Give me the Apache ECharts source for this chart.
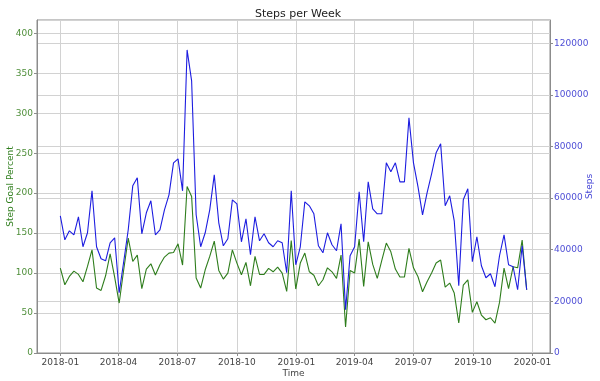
<!DOCTYPE html>
<html>
<head>
<meta charset="utf-8">
<script src="https://cdn.jsdelivr.net/npm/echarts@6/dist/echarts.min.js"></script>
<style>
html,body{margin:0;padding:0;background:#fff;}
#chart{width:600px;height:381px;}
</style>
</head>
<body>
<div id="chart"></div>
<script>
// ---- data ----
const START_DATE = '2018-01-01';   // first week
const WEEK_COUNT = 104;             // weekly samples
const goalPercent = [
  106.3, 85.4, 95.8, 102.5, 98.3, 89.1, 108.3, 129.1, 81.3, 78.3,
  96.6, 124.1, 95.0, 62.5, 104.1, 143.8, 114.5, 122.5, 80.4, 105.0,
  111.6, 97.5, 110.4, 120.0, 125.0, 125.8, 136.6, 110.0, 208.3, 195.8,
  93.8, 81.3, 104.1, 120.8, 140.0, 103.3, 92.5, 100.0, 129.1, 112.5,
  97.9, 113.3, 84.1, 120.8, 98.3, 98.3, 105.8, 101.6, 107.5, 100.0,
  77.0, 140.8, 80.0, 112.5, 125.0, 101.6, 97.3, 84.1, 91.6, 106.6,
  101.6, 93.3, 122.5, 32.5, 103.3, 100.0, 142.5, 83.3, 139.1, 110.8,
  93.3, 115.8, 137.5, 126.6, 105.0, 95.0, 95.0, 130.8, 106.6, 95.4,
  76.6, 89.1, 100.0, 112.5, 116.3, 82.5, 87.5, 75.0, 37.5, 85.0,
  91.6, 50.8, 64.1, 47.5, 41.6, 44.1, 37.5, 63.3, 106.3, 80.4,
  107.9, 106.6, 141.3, 79.1
];
const steps = [
  53150, 43860, 47340, 45790, 52760, 41150, 46570, 62830, 41150, 36500,
  35730, 42700, 44630, 23340, 35340, 47730, 64760, 67860, 46180, 54310,
  58960, 45790, 47730, 55470, 61280, 73670, 75210, 62830, 117410, 105410,
  53540, 41150, 46570, 55470, 69020, 50440, 41540, 44250, 59340, 57790,
  43080, 51990, 38050, 52760, 43470, 46180, 42700, 41150, 43470, 42700,
  31080, 62830, 34180, 41150, 58570, 57020, 53920, 41540, 38830, 46570,
  41920, 39600, 50050, 16760, 37670, 41150, 62440, 43080, 66310, 55860,
  53920, 53920, 73670, 70180, 73670, 66310, 66310, 91090, 73670, 64380,
  53540, 62050, 69410, 77540, 81020, 57020, 60890, 51210, 26050, 59340,
  63600, 35340, 45020, 33790, 29150, 30700, 25660, 37670, 45790, 34180,
  33410, 24500, 41540, 24500
];
const xTickLabels = ['2018-01', '2018-04', '2018-07', '2018-10', '2019-01',
                     '2019-04', '2019-07', '2019-10', '2020-01'];
const leftTicks = [0, 50, 100, 150, 200, 250, 300, 350, 400];
const rightTicks = [0, 20000, 40000, 60000, 80000, 100000, 120000];

// weekly dates
const DAY = 86400000;
const t0 = new Date(START_DATE + 'T00:00:00').getTime();
const dates = [];
for (let i = 0; i < WEEK_COUNT; i++) dates.push(t0 + i * 7 * DAY);
const xTickValues = xTickLabels.map(s => new Date(s + '-01T00:00:00').getTime());

const span = dates[dates.length - 1] - dates[0];
const xMin = dates[0] - 0.05 * span;
const xMax = dates[dates.length - 1] + 0.05 * span;

const GREEN = '#2e7d1c';
const BLUE = '#1d1de0';
const FONT = 'DejaVu Sans';

function fmtDate(v) {
  const d = new Date(v);
  return d.getFullYear() + '-' + String(d.getMonth() + 1).padStart(2, '0');
}

const chart = echarts.init(document.getElementById('chart'), null, {renderer: 'canvas'});
chart.setOption({
  animation: false,
  backgroundColor: '#fff',
  textStyle: {fontFamily: FONT},
  title: {
    text: 'Steps per Week',
    left: 293, top: 4, textAlign: 'center',
    textStyle: {fontFamily: FONT, fontSize: 11, fontWeight: 'normal', color: '#222'}
  },
  grid: {
    left: 37, right: 50, top: 20, bottom: 28,
    outerBoundsMode: 'none', containLabel: false,
    show: true, borderColor: '#8c8c8c', borderWidth: 1, backgroundColor: 'transparent'
  },
  xAxis: {
    type: 'value',
    min: xMin, max: xMax,
    name: 'Time', nameLocation: 'middle', nameGap: 16, nameMoveOverlap: false,
    nameTextStyle: {fontFamily: FONT, fontSize: 9, color: '#444'},
    axisLine: {show: true, lineStyle: {color: '#8c8c8c', width: 1}},
    axisTick: {show: true, length: 3, customValues: xTickValues, lineStyle: {color: '#8c8c8c'}},
    axisLabel: {fontFamily: FONT, fontSize: 9, color: '#444', margin: 5,
      customValues: xTickValues, formatter: fmtDate, hideOverlap: false},
    splitLine: {show: true, lineStyle: {color: '#d2d2d2', width: 1}}
  },
  yAxis: [
    {
      type: 'value', position: 'left',
      min: leftTicks[0], max: 416.6, interval: leftTicks[1] - leftTicks[0],
      name: 'Step Goal Percent', nameLocation: 'middle', nameGap: 22, nameRotate: 90,
      nameMoveOverlap: false,
      nameTextStyle: {fontFamily: FONT, fontSize: 9, color: GREEN},
      axisLine: {show: true, lineStyle: {color: '#8c8c8c', width: 1}},
      axisTick: {show: true, length: 3, lineStyle: {color: '#8c8c8c'}},
      axisLabel: {fontFamily: FONT, fontSize: 9, color: '#4f8f3a', margin: 4, showMaxLabel: false,
        formatter: v => leftTicks.indexOf(v) >= 0 ? String(v) : ''},
      splitLine: {show: true, lineStyle: {color: '#d2d2d2', width: 1}}
    },
    {
      type: 'value', position: 'right',
      min: rightTicks[0], max: 129000, interval: rightTicks[1] - rightTicks[0],
      name: 'Steps', nameLocation: 'middle', nameGap: 35, nameRotate: 90,
      nameMoveOverlap: false,
      nameTextStyle: {fontFamily: FONT, fontSize: 9, color: '#4646d6'},
      axisLine: {show: true, lineStyle: {color: '#8c8c8c', width: 1}},
      axisTick: {show: true, length: 3, lineStyle: {color: '#8c8c8c'}},
      axisLabel: {fontFamily: FONT, fontSize: 9, color: '#4f4fd6', margin: 4, showMaxLabel: false,
        formatter: v => rightTicks.indexOf(v) >= 0 ? String(v) : ''},
      splitLine: {show: true, lineStyle: {color: '#d2d2d2', width: 1}}
    }
  ],
  series: [
    {
      name: 'Step Goal Percent', type: 'line', yAxisIndex: 0,
      data: dates.map((d, i) => [d, goalPercent[i]]),
      showSymbol: false, symbol: 'none',
      lineStyle: {color: GREEN, width: 1.1}, itemStyle: {color: GREEN}
    },
    {
      name: 'Steps', type: 'line', yAxisIndex: 1,
      data: dates.map((d, i) => [d, steps[i]]),
      showSymbol: false, symbol: 'none',
      lineStyle: {color: BLUE, width: 1.1}, itemStyle: {color: BLUE}
    }
  ]
});
</script>
</body>
</html>
